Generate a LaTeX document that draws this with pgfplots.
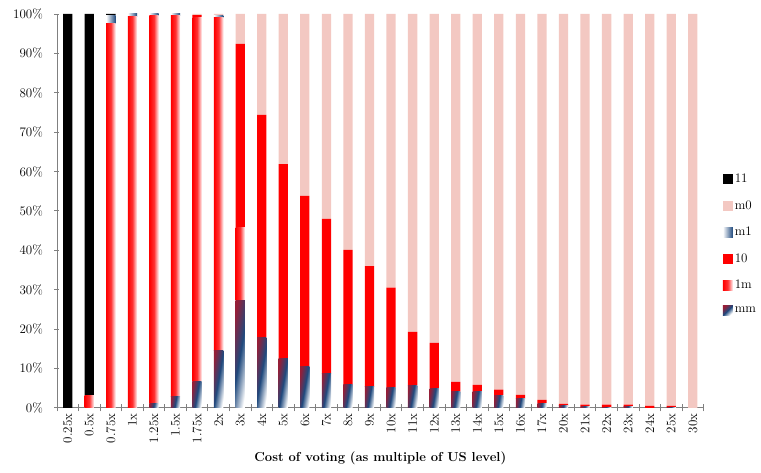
\documentclass[border=0pt]{standalone}
\usepackage{pgfplots}
\usepackage{pgfplotstable}
\pgfplotsset{compat=1.18}

\definecolor{mzero}{RGB}{243,200,194}
\definecolor{navy}{RGB}{31,73,125}
\definecolor{plum}{RGB}{150,30,55}

\tikzset{
  gmm/.style={left color=plum, right color=white, middle color=navy, shading angle=80},
  gmmleg/.style={left color=plum, right color=white, middle color=navy, shading angle=45},
  gom/.style={left color=red, right color=red!4, middle color=red!80},
  gmone/.style={left color=white, right color=navy},
}

% shaded bars are drawn one by one as marks, hanging down from the stacked top
% (394pt for 100 units -> 3.94pt per unit)
\newcommand\gradbar[1]{%
  \pgfmathparse{\barh>0}%
  \ifdim\pgfmathresult pt>0.5pt
    \path[#1] (-4.65pt,0pt) rectangle (4.65pt,{-\barh*3.94pt});%
  \fi}
\pgfdeclareplotmark{barmm}{\gradbar{gmm}}
\pgfdeclareplotmark{barom}{\gradbar{gom}}
\pgfdeclareplotmark{barmone}{\gradbar{gmone}}

% shares of each outcome (%), stacked bottom to top: mm, 1m, 10, m1, m0, 11
\pgfplotstableread{
cat    mm    om    ten   mone  mz    el
0.25x  0     0     0     0     0     100
0.5x   0     3.1   0     0     0     96.9
0.75x  0     97.5  0     2.2   0     0.3
1x     0     99.3  0     0.7   0     0
1.25x  1.0   98.7  0     0.3   0     0
1.5x   2.8   96.9  0     0.3   0     0
1.75x  6.6   92.6  0.5   0     0.3   0
2x     14.5  84.7  0     0.5   0.3   0
3x     27.2  18.6  46.6  0     7.6   0
4x     17.9  0     56.5  0     25.6  0
5x     12.4  0     49.5  0     38.1  0
6x     10.4  0     43.4  0     46.2  0
7x     8.7   0     39.3  0     52.0  0
8x     5.8   0     34.3  0     59.9  0
9x     5.3   0     30.7  0     64.0  0
10x    5.1   0     25.4  0     69.5  0
11x    5.7   0     13.6  0     80.7  0
12x    5.0   0     11.5  0     83.5  0
13x    4.1   0     2.5   0     93.4  0
14x    4.1   0     1.7   0     94.2  0
15x    3.2   0     1.4   0     95.4  0
16x    2.3   0     1.0   0     96.7  0
17x    1.2   0     0.8   0     98.0  0
20x    0.5   0     0.5   0     99.0  0
21x    0.4   0     0.4   0     99.2  0
22x    0.1   0     0.7   0     99.2  0
23x    0.2   0     0.6   0     99.2  0
24x    0     0     0.5   0     99.5  0
25x    0.1   0     0.4   0     99.5  0
30x    0     0     0     0     100   0
}\data

\begin{document}
\begin{tikzpicture}[font=\fontsize{13}{15}\selectfont]
\begin{axis}[
    scale only axis, width=647pt, height=394pt,
    ybar stacked, bar width=9.3pt,
    xmin=-0.5, xmax=29.5, ymin=0, ymax=100,
    xtick={0,...,29},
    xticklabels from table={\data}{cat},
    minor xtick={-0.5,0.5,...,29.5},
    major x tick style={draw=none},
    minor x tick style={draw=gray, line width=0.8pt},
    minor tick length=7pt,
    ytick={0,10,...,100},
    yticklabel={\pgfmathprintnumber{\tick}\%},
    /pgf/number format/assume math mode=true,
    y tick style={draw=gray, line width=0.8pt},
    major tick length=5pt,
    tick align=outside,
    axis x line=bottom, axis y line=left,
    axis line style={draw=gray, line width=0.8pt, -},
    xticklabel style={rotate=90, anchor=east, font=\fontsize{13}{15}\selectfont},
    yticklabel style={font=\fontsize{13}{15}\selectfont, xshift=-8pt},
    xlabel={\textbf{Cost of voting (as multiple of US level)}},
    xlabel style={font=\fontsize{13}{15}\selectfont, yshift=-2pt},
    reverse legend,
    legend cell align=left,
    legend image code/.code={\path[#1] (0pt,-5pt) rectangle (10pt,5pt);},
    legend style={draw=none, fill=none, at={(1,0.416)}, anchor=west, xshift=16pt,
        row sep=12.4pt, font=\fontsize{13}{15}\selectfont},
]
\addplot[draw=none, fill=none, mark=barmm,
    visualization depends on={\thisrow{mm} \as \barh},
    legend image code/.code={\path[gmmleg] (0pt,-5pt) rectangle (10pt,5pt);}]
    table[x expr=\coordindex, y=mm] {\data};
\addplot[draw=none, fill=none, mark=barom,
    visualization depends on={\thisrow{om} \as \barh},
    legend image code/.code={\path[gom] (0pt,-5pt) rectangle (10pt,5pt);}]
    table[x expr=\coordindex, y=om] {\data};
\addplot[draw=none, fill=red]
    table[x expr=\coordindex, y=ten] {\data};
\addplot[draw=none, fill=none, mark=barmone,
    visualization depends on={\thisrow{mone} \as \barh},
    legend image code/.code={\path[gmone] (0pt,-5pt) rectangle (10pt,5pt);}]
    table[x expr=\coordindex, y=mone] {\data};
\addplot[draw=none, fill=mzero]
    table[x expr=\coordindex, y=mz] {\data};
\addplot[draw=none, fill=black]
    table[x expr=\coordindex, y=el] {\data};
\legend{mm,1m,10,m1,m0,11}
\end{axis}
\path ([xshift=-57pt,yshift=-65pt]current axis.south west)
    rectangle ([xshift=57pt,yshift=14pt]current axis.north east);
\end{tikzpicture}
\end{document}
